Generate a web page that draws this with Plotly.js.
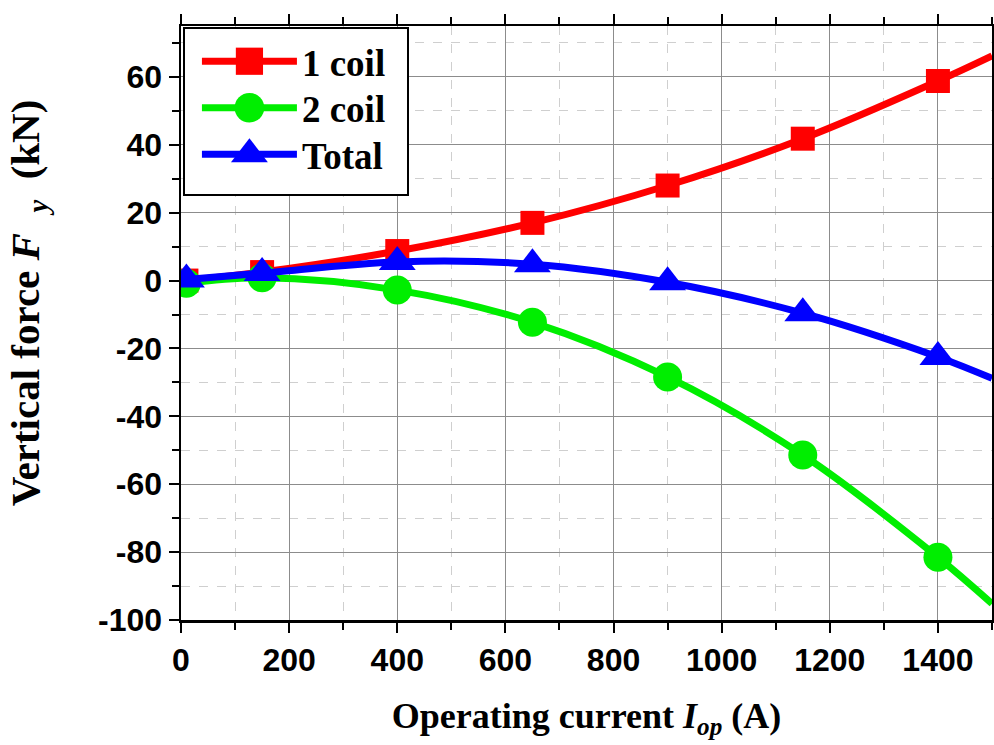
<!DOCTYPE html>
<html>
<head>
<meta charset="utf-8">
<script src="https://cdn.plot.ly/plotly-3.0.1.min.js"></script>
<style>
  html, body { margin: 0; padding: 0; background: #fff; }
  #chart { width: 994px; height: 745px; }
</style>
</head>
<body>
<div id="chart"></div>
<script>
// Operating current (A); the last entry is where each curve meets the right axis
const current = [10, 150, 400, 650, 900, 1150, 1400, 1500];

// Vertical force F_y (kN)
const coil1 = [0.0, 2.5, 8.7, 17.0, 28.0, 41.8, 58.8, 66.2];
const coil2 = [-0.8, 0.8, -2.8, -12.3, -28.4, -51.4, -81.5, -95.2];
const total = [0.3, 2.2, 5.5, 4.8, -0.5, -9.6, -22.5, -28.8];

const seriesNames = ['1 coil', '2 coil', 'Total'];

const xTicks = [0, 200, 400, 600, 800, 1000, 1200, 1400];
const yTicks = [-100, -80, -60, -40, -20, 0, 20, 40, 60];

// markers on measured points only, none at the curve end
function sizes(s) {
  return current.map((c, i) => (i === current.length - 1 ? 0 : s));
}

function series(name, y, color, symbol, size) {
  return {
    x: current,
    y: y,
    name: name,
    type: 'scatter',
    mode: 'lines+markers',
    line: { color: color, width: 7, shape: 'spline', smoothing: 1 },
    marker: { color: color, symbol: symbol, size: sizes(size), opacity: 1, line: { width: 0 } },
    cliponaxis: true
  };
}

const data = [
  series(seriesNames[0], coil1, '#ff0000', 'square', 24),
  series(seriesNames[1], coil2, '#00ee00', 'circle', 29),
  series(seriesNames[2], total, '#0000ff', 'triangle-up', 32)
];

const tickFont = { family: '"Liberation Sans Narrow", "Liberation Sans", Arial, sans-serif', size: 32, color: '#000', weight: 'bold' };
const serif = '"Liberation Serif", "Times New Roman", serif';

const layout = {
  width: 994,
  height: 745,
  margin: { l: 181, r: 2, t: 26, b: 125 },
  paper_bgcolor: '#fff',
  plot_bgcolor: '#fff',
  showlegend: true,
  legend: {
    x: 0.003, y: 0.998, xanchor: 'left', yanchor: 'top',
    bgcolor: '#fff', bordercolor: '#000', borderwidth: 1.5,
    font: { family: serif, size: 37, color: '#000', weight: 'bold' },
    itemwidth: 95,
    tracegroupgap: 0
  },
  xaxis: {
    range: [0, 1500],
    tickvals: xTicks,
    ticktext: xTicks.map(String),
    showline: true, linecolor: '#000', linewidth: 2.5, mirror: 'ticks',
    ticks: 'outside', ticklen: 10, tickwidth: 2, tickcolor: '#000',
    showgrid: true, gridcolor: '#8c8c8c', gridwidth: 1,
    zeroline: false,
    tickfont: tickFont,
    minor: { dtick: 100, ticks: 'outside', ticklen: 7, tickwidth: 2, tickcolor: '#000',
             showgrid: true, gridcolor: '#cfcfcf', griddash: 'dash', gridwidth: 1 },
    title: { text: 'Operating current <i>I</i><sub><i>op</i></sub> (A)',
             font: { family: serif, size: 36, color: '#000', weight: 'bold' }, standoff: 26 }
  },
  yaxis: {
    range: [-100, 75],
    tickvals: yTicks,
    ticktext: yTicks.map(String),
    showline: true, linecolor: '#000', linewidth: 2.5, mirror: 'ticks',
    ticks: 'outside', ticklen: 10, tickwidth: 2, tickcolor: '#000',
    showgrid: true, gridcolor: '#8c8c8c', gridwidth: 1,
    zeroline: false,
    tickfont: tickFont,
    minor: { dtick: 10, ticks: 'outside', ticklen: 7, tickwidth: 2, tickcolor: '#000',
             showgrid: true, gridcolor: '#cfcfcf', griddash: 'dash', gridwidth: 1 },
    title: { text: 'Vertical force <i>F</i>  <sub><i>y</i></sub>  (kN)',
             font: { family: serif, size: 41, color: '#000', weight: 'bold' }, standoff: 46 }
  }
};

Plotly.newPlot('chart', data, layout, { staticPlot: true }).then(function (gd) {
  // legend: larger symbols, roomier box and evenly spaced rows
  const scales = [1.7, 1.85, 2.0];
  const rowGap = 46.5;
  let firstY = null;
  gd.querySelectorAll('.legend .traces').forEach(function (tr, i) {
    tr.querySelectorAll('.legendpoints path.scatterpts').forEach(function (p) {
      const t = p.getAttribute('transform') || '';
      p.setAttribute('transform', t + ' scale(' + scales[i] + ')');
    });
    const layers = tr.querySelector('.layers');
    if (layers) layers.setAttribute('transform', 'translate(12,0)');
    const txt = tr.querySelector('text.legendtext');
    if (txt) txt.setAttribute('transform', 'translate(12,0)');
    const m = /translate\(\s*([-\d.]+)[ ,]+([-\d.]+)\s*\)/.exec(tr.getAttribute('transform') || '');
    if (m) {
      if (firstY === null) firstY = parseFloat(m[2]) + 2;
      tr.setAttribute('transform', 'translate(' + m[1] + ',' + (firstY + i * rowGap) + ')');
    }
  });
  const bg = gd.querySelector('.legend rect.bg');
  if (bg) {
    bg.setAttribute('width', 224);
    bg.setAttribute('height', 167);
  }
  const box = gd.querySelector('.legend .scrollbox');
  if (box) box.removeAttribute('clip-path');

  // sit the vertical title a little above the plot's mid-height
  const yt = gd.querySelector('.ytitle');
  if (yt) yt.setAttribute('transform', 'translate(0,-20) ' + (yt.getAttribute('transform') || ''));
});
</script>
</body>
</html>
